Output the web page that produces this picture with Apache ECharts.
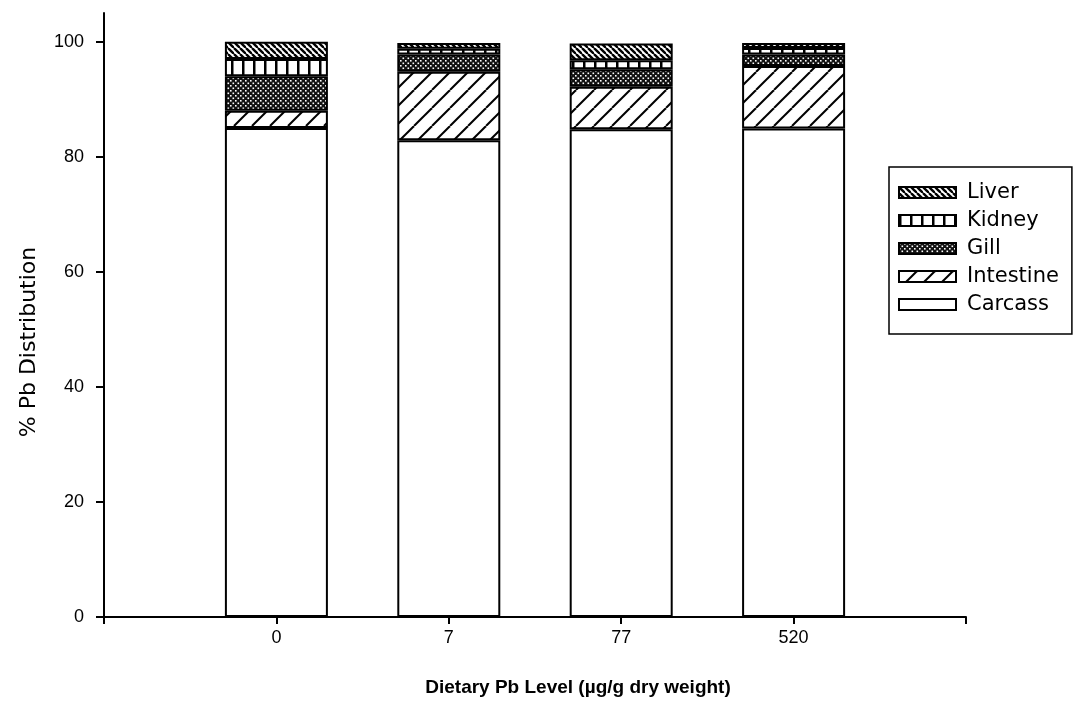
<!DOCTYPE html>
<html>
<head>
<meta charset="utf-8">
<script src="https://cdn.jsdelivr.net/npm/echarts@6/dist/echarts.min.js"></script>
<style>
html,body{margin:0;padding:0;background:#fff;}
#chart{width:1077px;height:704px;}
</style>
</head>
<body>
<div id="chart"></div>
<script>
// ---- data ----
var categories = ['0', '7', '77', '520'];
var carcass   = [85.0, 82.9, 84.8, 84.9];
var intestine = [3.0, 11.9, 7.4, 10.9];
var gill      = [6.0, 3.0, 3.0, 2.0];
var kidney    = [3.0, 1.0, 1.6, 1.1];
var liver     = [3.0, 1.0, 2.9, 0.9];
var yTicks = [0, 20, 40, 60, 80, 100];
var legendOrder = ['Liver', 'Kidney', 'Gill', 'Intestine', 'Carcass'];

// ---- patterns ----
function makePattern(w, h, draw) {
  var c = document.createElement('canvas');
  c.width = w; c.height = h;
  var ctx = c.getContext('2d');
  ctx.fillStyle = '#fff';
  ctx.fillRect(0, 0, w, h);
  draw(ctx, w, h);
  return { image: c, repeat: 'repeat' };
}
var pLiver = makePattern(6, 6, function (ctx, w, h) {
  ctx.strokeStyle = '#000'; ctx.lineWidth = 2.4;
  for (var k = -1; k <= 1; k++) {
    ctx.beginPath(); ctx.moveTo(k * w, 0); ctx.lineTo(k * w + w, h); ctx.stroke();
  }
});
var pKidney = makePattern(11, 4, function (ctx, w, h) {
  ctx.fillStyle = '#000'; ctx.fillRect(0, 0, 2.5, h);
});
var pGill = makePattern(5, 5, function (ctx, w, h) {
  ctx.fillStyle = '#111'; ctx.fillRect(0, 0, w, h);
  ctx.fillStyle = '#fff';
  ctx.fillRect(0, 0, 1.6, 1.6); ctx.fillRect(2.5, 2.5, 1.6, 1.6);
});
var pIntestine = makePattern(18, 18, function (ctx, w, h) {
  ctx.strokeStyle = '#000'; ctx.lineWidth = 2;
  for (var k = -1; k <= 1; k++) {
    ctx.beginPath(); ctx.moveTo(k * w, h); ctx.lineTo(k * w + w, 0); ctx.stroke();
  }
});

// category axis padded with empty slots at both ends
var axisCats = [''].concat(categories).concat(['']);
function pad(arr) { return ['-'].concat(arr).concat(['-']); }

function barSeries(name, data, color) {
  return {
    name: name, type: 'bar', stack: 'total', data: pad(data),
    barWidth: 103,
    itemStyle: { color: color, borderColor: '#000', borderWidth: 2 },
    emphasis: { disabled: true }
  };
}

var font = "'Liberation Sans', Arial, sans-serif";
var chart = echarts.init(document.getElementById('chart'), null, { renderer: 'canvas' });
chart.setOption({
  animation: false,
  backgroundColor: '#fff',
  grid: { left: 104, right: 111, top: 13, bottom: 87, containLabel: false },
  legend: {
    data: legendOrder,
    orient: 'vertical',
    left: 889, top: 167,
    padding: [15, 13, 19, 9],
    itemWidth: 57, itemHeight: 11,
    itemGap: 7,
    borderColor: '#000', borderWidth: 1.5,
    icon: 'rect',
    textStyle: { fontFamily: "'DejaVu Sans', sans-serif", fontSize: 21, color: '#000', lineHeight: 21, padding: [0, 0, 0, 6] }
  },
  xAxis: {
    type: 'category', data: axisCats, boundaryGap: false,
    name: 'Dietary Pb Level (µg/g dry weight)',
    nameLocation: 'middle', nameGap: 61,
    nameTextStyle: { fontFamily: font, fontWeight: 'bold', fontSize: 19, color: '#000', padding: [0, 0, 0, 86] },
    axisLine: { lineStyle: { color: '#000', width: 2 } },
    axisTick: { show: true, length: 7, lineStyle: { color: '#000', width: 2 } },
    axisLabel: { margin: 12, fontFamily: font, fontSize: 18, color: '#000' },
    splitLine: { show: false }
  },
  yAxis: {
    type: 'value', min: 0, max: 105, interval: 20,
    name: '% Pb Distribution',
    nameLocation: 'middle', nameGap: 64,
    nameTextStyle: { fontFamily: "'DejaVu Sans', sans-serif", fontSize: 22, color: '#000', padding: [0, 54, 0, 0] },
    axisLine: { show: true, lineStyle: { color: '#000', width: 2 } },
    axisTick: { show: true, length: 8, customValues: yTicks, lineStyle: { color: '#000', width: 2 } },
    axisLabel: { margin: 20, fontFamily: font, fontSize: 18, color: '#000', customValues: yTicks },
    splitLine: { show: false }
  },
  series: [
    barSeries('Carcass', carcass, '#fff'),
    barSeries('Intestine', intestine, pIntestine),
    barSeries('Gill', gill, pGill),
    barSeries('Kidney', kidney, pKidney),
    barSeries('Liver', liver, pLiver)
  ]
});
</script>
</body>
</html>
